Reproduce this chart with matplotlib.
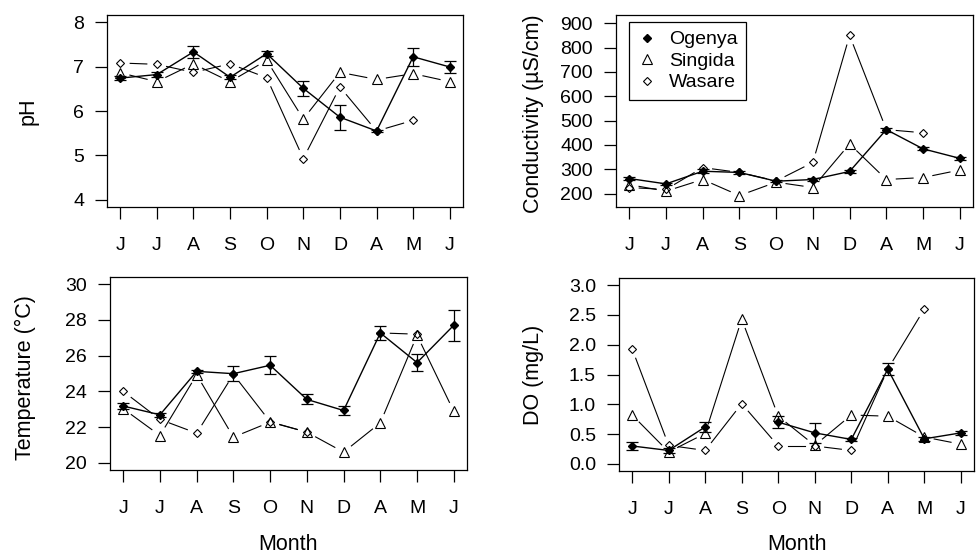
import numpy as np
from matplotlib import pyplot as plt
from matplotlib.lines import Line2D

plt.rcParams['font.family'] = ['Liberation Sans', 'DejaVu Sans']
plt.rcParams['font.size'] = 14

months = ['J', 'J', 'A', 'S', 'O', 'N', 'D', 'A', 'M', 'J']
nan = np.nan

# pH
og_ph = [6.74, 6.82, 7.33, 6.76, 7.29, 6.51, 5.86, 5.55, 7.22, 6.99]
og_ph_err = [0.04, 0.06, 0.13, 0.05, 0.05, 0.17, 0.28, 0.03, 0.2, 0.14]
sg_ph = [6.86, 6.66, 7.06, 6.66, 7.14, 5.82, 6.87, 6.71, 6.84, 6.66]
ws_ph = [7.08, 7.05, 6.87, 7.06, 6.75, 4.93, 6.54, 5.55, 5.79, nan]

# conductivity
og_cond = [262, 240, 292, 287, 251, 258, 291, 463, 384, 345]
og_cond_err = [6, 5, 8, 6, 5, 6, 5, 8, 6, 5]
sg_cond = [237, 210, 258, 192, 247, 225, 404, 258, 266, 297]
ws_cond = [225, 217, 307, 287, 252, 328, 850, 463, 450, nan]

# temperature
og_temp = [23.18, 22.69, 25.12, 24.99, 25.46, 23.55, 22.93, 27.27, 25.61, 27.70]
og_temp_err = [0.15, 0.1, 0.1, 0.41, 0.5, 0.28, 0.25, 0.4, 0.47, 0.88]
sg_temp = [23.03, 21.53, 24.93, 21.44, 22.28, 21.72, 20.6, 22.24, 27.14, 22.88]
ws_temp = [24.0, 22.43, 21.66, 24.95, 22.3, 21.72, nan, 27.27, 27.2, nan]

# dissolved oxygen
og_do = [0.30, 0.225, 0.62, nan, 0.70, 0.52, 0.41, 1.59, 0.42, 0.52]
og_do_err = [0.07, 0.04, 0.08, nan, 0.1, 0.17, 0.03, 0.1, 0.03, 0.03]
sg_do = [0.82, 0.20, 0.51, 2.43, 0.80, 0.31, 0.82, 0.80, 0.45, 0.33]
ws_do = [1.93, 0.31, 0.225, 1.01, 0.30, 0.30, 0.225, 1.59, 2.60, nan]

x = np.arange(1, len(months) + 1)

W, H = 979, 554
fig = plt.figure(figsize=(W / 100, H / 100), dpi=100)


def make_axes(left, top, right, bottom):
    return fig.add_axes([left / W, 1 - bottom / H, (right - left) / W, (bottom - top) / H])


def gapped(ax, y, marker, ms, gap=10):
    # R style type="b": line segments stop short of the points
    y = np.asarray(y, dtype=float)
    pts = ax.transData.transform(np.column_stack([x, y]))
    inv = ax.transData.inverted()
    for i in range(len(y) - 1):
        if np.isnan(y[i]) or np.isnan(y[i + 1]):
            continue
        p0, p1 = pts[i], pts[i + 1]
        d = p1 - p0
        length = np.hypot(d[0], d[1])
        if length <= 2 * gap:
            continue
        u = d / length
        seg = inv.transform([p0 + u * gap, p1 - u * gap])
        ax.plot(seg[:, 0], seg[:, 1], color='black', lw=0.8)
    ax.plot(x, y, ls='none', marker=marker, ms=ms, mfc='none', mec='black', mew=0.8)


def panel(ax, og, og_err, sg, ws, ylim, yticks, yticklabels):
    ax.set_xlim(0.64, 10.36)
    ax.set_ylim(*ylim)
    ax.set_xticks(x)
    ax.set_xticklabels(months)
    ax.set_yticks(yticks)
    ax.set_yticklabels(yticklabels)
    ax.tick_params(axis='both', direction='out', length=8.5, width=0.9, labelsize=14)
    ax.tick_params(axis='x', pad=13)
    ax.tick_params(axis='y', pad=8)
    for s in ax.spines.values():
        s.set_linewidth(0.9)
    ax.errorbar(x, og, yerr=og_err, color='black', lw=1.0, marker='D', ms=4.4,
                capsize=4, elinewidth=0.9, capthick=0.9)
    gapped(ax, sg, '^', 7.5)
    gapped(ax, ws, 'D', 3.6)


ax1 = make_axes(107, 15, 463, 207)
panel(ax1, og_ph, og_ph_err, sg_ph, ws_ph, (3.84, 8.16), [4, 5, 6, 7, 8], ['4', '5', '6', '7', '8'])

ax2 = make_axes(616, 15, 973, 207)
panel(ax2, og_cond, og_cond_err, sg_cond, ws_cond, (145, 934),
      [200, 300, 400, 500, 600, 700, 800, 900],
      ['200', '300', '400', '500', '600', '700', '800', '900'])

ax3 = make_axes(110, 277, 467, 470)
panel(ax3, og_temp, og_temp_err, sg_temp, ws_temp, (19.6, 30.4),
      [20, 22, 24, 26, 28, 30], ['20', '22', '24', '26', '28', '30'])

ax4 = make_axes(619, 278, 974, 471)
panel(ax4, og_do, og_do_err, sg_do, ws_do, (-0.12, 3.12),
      [0, 0.5, 1, 1.5, 2, 2.5, 3], ['0.0', '0.5', '1.0', '1.5', '2.0', '2.5', '3.0'])

handles = [
    Line2D([], [], ls='none', marker='D', ms=4.4, color='black'),
    Line2D([], [], ls='none', marker='^', ms=7.5, mfc='none', mec='black', mew=0.8),
    Line2D([], [], ls='none', marker='D', ms=3.6, mfc='none', mec='black', mew=0.8),
]
leg = ax2.legend(handles, ['Ogenya', 'Singida', 'Wasare'], loc='upper left',
                 bbox_to_anchor=((629 - 616) / 357, (207 - 22) / 192), borderaxespad=0,
                 fancybox=False, edgecolor='black', framealpha=1, handlelength=1,
                 handletextpad=0.6, labelspacing=0.2, borderpad=0.45, fontsize=14)
leg.get_frame().set_linewidth(0.9)

fig.text(28 / W, 1 - 111 / H, 'pH', rotation=90, ha='center', va='center', fontsize=15.5)
fig.text(533 / W, 1 - 114 / H, 'Conductivity (µS/cm)', rotation=90, ha='center', va='center', fontsize=15.5)
fig.text(25 / W, 1 - 378 / H, 'Temperature (°C)', rotation=90, ha='center', va='center', fontsize=15.5)
fig.text(533 / W, 1 - 375 / H, 'DO (mg/L)', rotation=90, ha='center', va='center', fontsize=15.5)
fig.text(288 / W, 1 - 545 / H, 'Month', ha='center', va='center', fontsize=15.5)
fig.text(797 / W, 1 - 545 / H, 'Month', ha='center', va='center', fontsize=15.5)

plt.savefig('out.png', dpi=100)
